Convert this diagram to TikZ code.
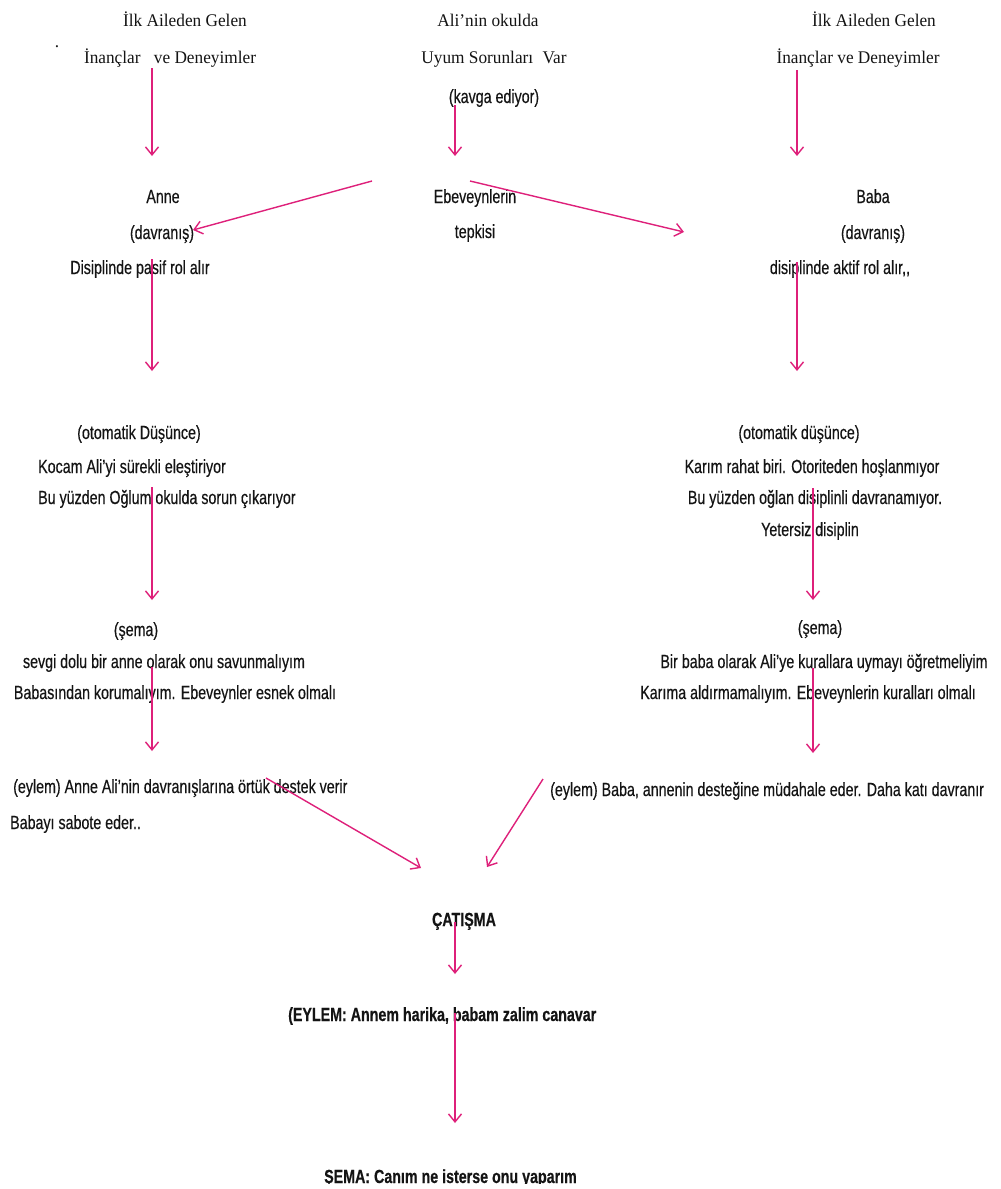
\documentclass[tikz,border=0pt]{standalone}
\usepackage{fontspec}
\setmainfont{Liberation Serif}[FakeStretch=0.97]
\newfontfamily\sansf{Liberation Sans}[FakeStretch=0.75,FakeBold=0.4]
\usetikzlibrary{arrows.meta}
\definecolor{pink}{RGB}{222,32,122}
\definecolor{ink}{RGB}{20,20,20}
\tikzset{
  ser/.style={inner sep=0pt,text=ink,font=\fontsize{17.8}{20}\selectfont},
  lbl/.style={inner sep=0pt,text=ink,font=\sansf\fontsize{19}{22}\selectfont},
  bld/.style={inner sep=0pt,text=ink,font=\sansf\bfseries\fontsize{19}{22}\selectfont},
  arr/.style={draw=pink,line width=1.4pt,-{Straight Barb[length=8pt,width=13pt,line width=1.4pt]}}
}
\begin{document}
\begin{tikzpicture}[x=1pt,y=-1pt]
\useasboundingbox (0,0) rectangle (1001,1189);
\fill[white] (0,0) rectangle (1001,1189);
\begin{scope}
\clip (0,0) rectangle (1001,1183);
% top row
\node[ser,anchor=base] (s1a) at (185,26) {İlk Aileden Gelen};
\node[ser,anchor=base] (s1b) at (170,63) {İnançlar\hspace{9pt} ve Deneyimler};
\node[ser,anchor=base] (dot) at (57,47) {.};
\node[ser,anchor=base] (s2a) at (488,26) {Ali’nin okulda};
\node[ser,anchor=base] (s2b) at (494,63) {Uyum Sorunları\hspace{5pt} Var};
\node[lbl,anchor=base] (kav) at (494,103) {(kavga ediyor)};
\node[ser,anchor=base] (s3a) at (874,26) {İlk Aileden Gelen};
\node[ser,anchor=base] (s3b) at (858,63) {İnançlar ve Deneyimler};
% second row
\node[lbl,anchor=base] (anne) at (163,203) {Anne};
\node[lbl,anchor=base] (anneb) at (162,239) {(davranış)};
\node[lbl,anchor=base] (annec) at (140,274) {Disiplinde pasif rol alır};
\node[lbl,anchor=base] (eb) at (475,203) {Ebeveynlerin};
\node[lbl,anchor=base] (ebb) at (475,238) {tepkisi};
\node[lbl,anchor=base] (baba) at (873,203) {Baba};
\node[lbl,anchor=base] (babab) at (873,239) {(davranış)};
\node[lbl,anchor=base] (babac) at (840,274) {disiplinde aktif rol alır,,};
% third row
\node[lbl,anchor=base] (od1) at (139,439) {(otomatik Düşünce)};
\node[lbl,anchor=base west] (od2) at (38,473) {Kocam Ali’yi sürekli eleştiriyor};
\node[lbl,anchor=base west] (od3) at (38,504) {Bu yüzden Oğlum okulda sorun çıkarıyor};
\node[lbl,anchor=base] (bd1) at (799,439) {(otomatik düşünce)};
\node[lbl,anchor=base] (bd2) at (812,473) {Karım rahat biri. Otoriteden hoşlanmıyor};
\node[lbl,anchor=base] (bd3) at (815,504) {Bu yüzden oğlan disiplinli davranamıyor.};
\node[lbl,anchor=base] (bd4) at (810,536) {Yetersiz disiplin};
% fourth row
\node[lbl,anchor=base] (as1) at (136,636) {(şema)};
\node[lbl,anchor=base] (as2) at (164,668) {sevgi dolu bir anne olarak onu savunmalıyım};
\node[lbl,anchor=base] (as3) at (175,699) {Babasından korumalıyım. Ebeveynler esnek olmalı};
\node[lbl,anchor=base] (bs1) at (820,634) {(şema)};
\node[lbl,anchor=base] (bs2) at (824,668) {Bir baba olarak Ali’ye kurallara uymayı öğretmeliyim};
\node[lbl,anchor=base] (bs3) at (808,699) {Karıma aldırmamalıyım. Ebeveynlerin kuralları olmalı};
% fifth row
\node[lbl,anchor=base west] (ae1) at (13,793) {(eylem) Anne Ali’nin davranışlarına örtük destek verir};
\node[lbl,anchor=base west] (ae2) at (10,829) {Babayı sabote eder..};
\node[lbl,anchor=base west] (be1) at (550,796) {(eylem) Baba, annenin desteğine müdahale eder. Daha katı davranır};
% bottom
\node[bld,anchor=base] (cat) at (464,926) {ÇATIŞMA};
\node[bld,anchor=base west] (ey) at (288,1021) {(EYLEM: Annem harika, babam zalim canavar};
\node[bld,anchor=base west] (sem) at (324,1183) {ŞEMA: Canım ne isterse onu yaparım};
% connector ends
\coordinate (c1s) at (152,68);   \coordinate (c1e) at (152,156);
\coordinate (c2s) at (455,105);  \coordinate (c2e) at (455,156);
\coordinate (c3s) at (797,70);   \coordinate (c3e) at (797,156);
\coordinate (c4s) at (372,181);  \coordinate (c4e) at (193,230);
\coordinate (c5s) at (470,181);  \coordinate (c5e) at (684,232);
\coordinate (c6s) at (152,259);  \coordinate (c6e) at (152,371);
\coordinate (c7s) at (797,262);  \coordinate (c7e) at (797,371);
\coordinate (c8s) at (152,487);  \coordinate (c8e) at (152,600);
\coordinate (c9s) at (813,488);  \coordinate (c9e) at (813,600);
\coordinate (c10s) at (152,667); \coordinate (c10e) at (152,751);
\coordinate (c11s) at (813,668); \coordinate (c11e) at (813,753);
\coordinate (c12s) at (266,778); \coordinate (c12e) at (421,868);
\coordinate (c13s) at (543,779); \coordinate (c13e) at (487,867);
\coordinate (c14s) at (455,922); \coordinate (c14e) at (455,974);
\coordinate (c15s) at (455,1013);\coordinate (c15e) at (455,1123);
% connectors
\draw[arr] (c1s) -- (c1e);
\draw[arr] (c2s) -- (c2e);
\draw[arr] (c3s) -- (c3e);
\draw[arr] (c4s) -- (c4e);
\draw[arr] (c5s) -- (c5e);
\draw[arr] (c6s) -- (c6e);
\draw[arr] (c7s) -- (c7e);
\draw[arr] (c8s) -- (c8e);
\draw[arr] (c9s) -- (c9e);
\draw[arr] (c10s) -- (c10e);
\draw[arr] (c11s) -- (c11e);
\draw[arr] (c12s) -- (c12e);
\draw[arr] (c13s) -- (c13e);
\draw[arr] (c14s) -- (c14e);
\draw[arr] (c15s) -- (c15e);
\end{scope}
\end{tikzpicture}
\end{document}
